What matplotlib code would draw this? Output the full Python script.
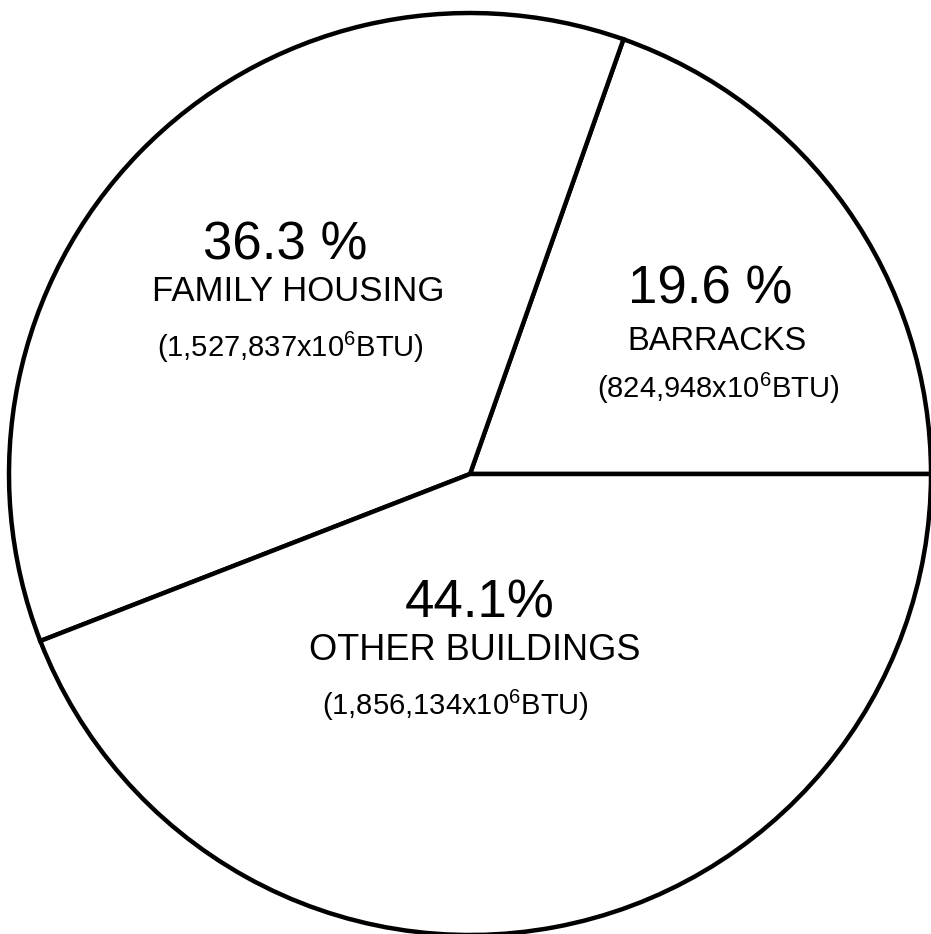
import matplotlib
matplotlib.use("Agg")
import matplotlib.pyplot as plt

# Data
categories = ["BARRACKS", "FAMILY HOUSING", "OTHER BUILDINGS"]
percent_labels = ["19.6 %", "36.3 %", "44.1%"]
btu_values = [824948, 1527837, 1856134]
btu_labels = ["(824,948x10$^6$BTU)", "(1,527,837x10$^6$BTU)", "(1,856,134x10$^6$BTU)"]

plt.rcParams['mathtext.fontset'] = 'custom'
plt.rcParams['mathtext.rm'] = 'Liberation Sans'
plt.rcParams['mathtext.it'] = 'Liberation Sans'
plt.rcParams['mathtext.bf'] = 'Liberation Sans'
plt.rcParams['font.family'] = ['Liberation Sans', 'DejaVu Sans']

W, H = 931, 934
fig = plt.figure(figsize=(W / 100, H / 100), dpi=100)
fig.patch.set_facecolor('white')
ax = fig.add_axes([0, 0, 1, 1])

cx, cy, r = 470, 474, 461  # pixel centre and radius of the pie

ax.pie(btu_values, startangle=0, counterclock=True, radius=1.0, center=(0, 0),
       colors=['white'] * 3,
       wedgeprops=dict(edgecolor='black', linewidth=3.2, joinstyle='miter'))

ax.set_xlim(-cx / r, (W - cx) / r)
ax.set_ylim(-(H - cy) / r, cy / r)
ax.set_aspect('auto')
ax.axis('off')

# label layout: (percent y, name y, value y, x centres) in pixels
pos = {
    0: dict(x=(710, 717, 718), y=(289, 341, 388), name_fs=23.5),
    1: dict(x=(285, 298, 290), y=(246, 292, 347), name_fs=25),
    2: dict(x=(480, 475, 455), y=(603, 651, 705), name_fs=26),
}

def fc(px, py):
    return px / W, 1 - py / H

for i in range(3):
    p = pos[i]
    x0, y0 = fc(p['x'][0], p['y'][0])
    fig.text(x0, y0, percent_labels[i], ha='center', va='center', fontsize=38)
    x1, y1 = fc(p['x'][1], p['y'][1])
    fig.text(x1, y1, categories[i], ha='center', va='center', fontsize=p['name_fs'])
    x2, y2 = fc(p['x'][2], p['y'][2])
    fig.text(x2, y2, btu_labels[i], ha='center', va='center', fontsize=21)

fig.savefig("out.png", dpi=100, facecolor='white')
